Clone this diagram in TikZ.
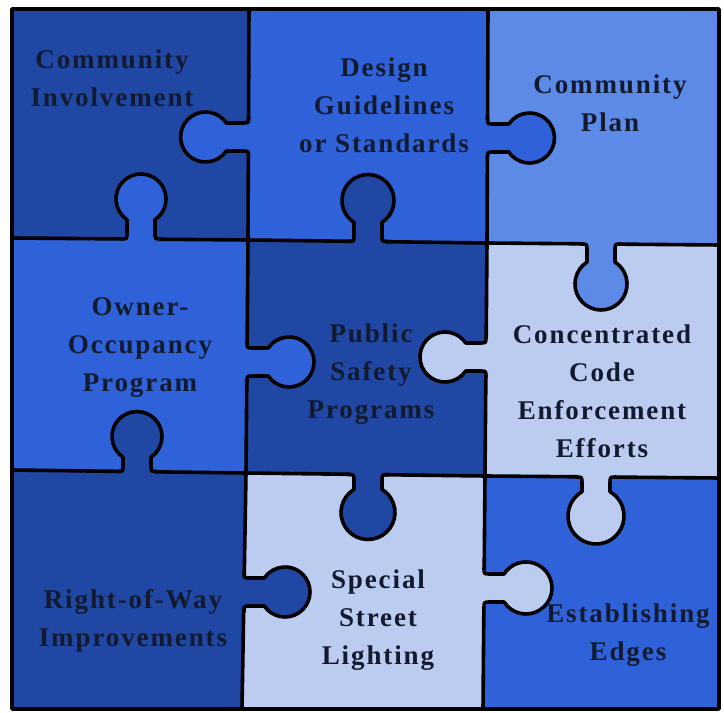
\documentclass[tikz,border=0pt]{standalone}
\usepackage{fontspec}
\setmainfont{Liberation Serif}[LetterSpace=7]
\begin{document}
\definecolor{pzDark}{HTML}{1F47A3}
\definecolor{pzBright}{HTML}{2F62D9}
\definecolor{pzMid}{HTML}{5C8AE6}
\definecolor{pzLight}{HTML}{BCCBF0}
\definecolor{pzInk}{HTML}{111A2E}
\tikzset{
  edge/.style={draw=black, line width=3.6pt, line cap=round, line join=round},
  label/.style={align=center, text=pzInk, inner sep=0pt,
    font=\fontsize{27}{38}\selectfont\bfseries}
}
\def\kn{14}
\def\kf{6}
% one jigsaw tab: base point, direction, head distance, head radius, colour
\newcommand\jigknob[6]{%
  \begin{scope}[shift={(#1,#2)}, rotate=#3]
    \pgfmathsetmacro\kS{sqrt(#5*#5-\kn*\kn)}
    \pgfmathsetmacro\kA{asin(\kn/#5)}
    \fill[#6] (0,-\kn-\kf) .. controls (0,-\kn) .. (\kf,-\kn) -- ({#4-\kS},-\kn)
      arc[start angle={-180+\kA}, end angle={180-\kA}, radius=#5]
      -- (\kf,\kn) .. controls (0,\kn) .. (0,\kn+\kf) -- cycle;
    \fill[#6] (-2.5,{-\kn-\kf+1.8}) rectangle (0.3,{\kn+\kf-1.8});
    \draw[edge] (0,-\kn-\kf) .. controls (0,-\kn) .. (\kf,-\kn) -- ({#4-\kS},-\kn)
      arc[start angle={-180+\kA}, end angle={180-\kA}, radius=#5]
      -- (\kf,\kn) .. controls (0,\kn) .. (0,\kn+\kf);
  \end{scope}}
\begin{tikzpicture}[x=1pt,y=1pt]
\useasboundingbox (0,0) rectangle (724,713);
\fill[white] (0,0) rectangle (724,713);
% grid corners
\coordinate (p00) at (12,704);  \coordinate (p10) at (249,704);
\coordinate (p20) at (488,704); \coordinate (p30) at (719,704);
\coordinate (p01) at (12,475);  \coordinate (p11) at (248,473);
\coordinate (p21) at (487,470); \coordinate (p31) at (719,468);
\coordinate (p02) at (12,243);  \coordinate (p12) at (246,240);
\coordinate (p22) at (485,237); \coordinate (p32) at (719,235);
\coordinate (p03) at (12,4);    \coordinate (p13) at (242,4);
\coordinate (p23) at (483,4);   \coordinate (p33) at (719,4);
% pieces
\fill[pzDark]   (p00) -- (p10) -- (p11) -- (p01) -- cycle;
\fill[pzBright] (p10) -- (p20) -- (p21) -- (p11) -- cycle;
\fill[pzMid]    (p20) -- (p30) -- (p31) -- (p21) -- cycle;
\fill[pzBright] (p01) -- (p11) -- (p12) -- (p02) -- cycle;
\fill[pzDark]   (p11) -- (p21) -- (p22) -- (p12) -- cycle;
\fill[pzLight]  (p21) -- (p31) -- (p32) -- (p22) -- cycle;
\fill[pzDark]   (p02) -- (p12) -- (p13) -- (p03) -- cycle;
\fill[pzLight]  (p12) -- (p22) -- (p23) -- (p13) -- cycle;
\fill[pzBright] (p22) -- (p32) -- (p33) -- (p23) -- cycle;
% seams between pieces
\draw[edge] (p10) -- (p11) -- (p12) -- (p13);
\draw[edge] (p20) -- (p21) -- (p22) -- (p23);
\draw[edge] (p01) -- (p11) -- (p21) -- (p31);
\draw[edge] (p02) -- (p12) -- (p22) -- (p32);
% tabs
\jigknob{248.6}{576}{180}{43}{25}{pzBright}
\jigknob{141}{474}{90}{40}{25}{pzBright}
\jigknob{368}{471.5}{90}{41}{26}{pzDark}
\jigknob{487.5}{575}{0}{42}{25}{pzBright}
\jigknob{601}{469}{270}{40}{26}{pzMid}
\jigknob{247}{351}{0}{42}{25}{pzBright}
\jigknob{486}{356}{180}{41}{25}{pzLight}
\jigknob{137}{241.5}{90}{35}{25}{pzDark}
\jigknob{368}{238.5}{270}{38}{27}{pzDark}
\jigknob{596}{236}{270}{39}{28}{pzLight}
\jigknob{244}{121}{0}{41}{25}{pzDark}
\jigknob{484}{125}{0}{42}{26}{pzLight}
% outer frame
\draw[edge] (p00) -- (p30) -- (p33) -- (p03) -- cycle;
% labels
\node[label] (t1) at (112,634.5) {Community\\Involvement};
\node[label] (t2) at (384,607.5) {Design\\Guidelines\\or Standards};
\node[label] (t3) at (610,609.5) {Community\\Plan};
\node[label] (t4) at (140,365) {Owner-\\Occupancy\\Program};
\node[label] (t5) at (371,338.5) {Public\\Safety\\Programs};
\node[label] (t6) at (602,321.5) {Concentrated\\Code\\Enforcement\\Efforts};
\node[label] (t7) at (133,92.5) {Right-of-Way\\Improvements};
\node[label] (t8) at (378,92.5) {Special\\Street\\Lighting};
\node[label] (t9) at (628,77.5) {Establishing\\Edges};
\end{tikzpicture}
\end{document}
